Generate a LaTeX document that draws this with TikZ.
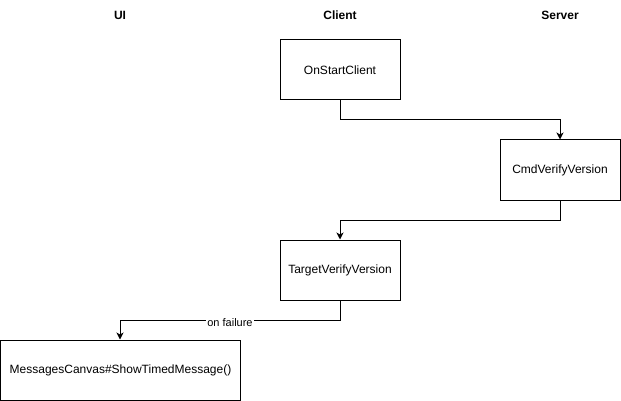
\documentclass[tikz,border=0pt]{standalone}
\usepackage{fontspec}
\setmainfont{Liberation Sans}
\usetikzlibrary{arrows.meta}
\begin{document}
\begin{tikzpicture}[x=1pt,y=-1pt,
  box/.style={draw=black,line width=1pt,minimum width=120pt,minimum height=60pt,inner sep=0pt,font=\fontsize{12}{14}\selectfont,anchor=center},
  wide/.style={box,minimum width=240pt},
  hdr/.style={font=\fontsize{12}{14}\selectfont\bfseries},
  conn/.style={line width=1pt,-{Stealth[length=7pt,width=7pt,inset=2pt]}},
  lbl/.style={fill=white,inner sep=1pt,font=\fontsize{11}{13}\selectfont}]
\useasboundingbox (0,0) rectangle (621,401);
\node[hdr] (ui) at (120,15) {UI};
\node[hdr] (client) at (340,15) {Client};
\node[hdr] (server) at (560,15) {Server};
\node[box] (start) at (340,70) {OnStartClient};
\node[box] (cmd) at (560,170) {CmdVerifyVersion};
\node[box] (target) at (340,270) {TargetVerifyVersion};
\node[wide] (msg) at (120.5,370) {MessagesCanvas\#ShowTimedMessage()};
\coordinate (c1) at (340,120);
\coordinate (c2) at (560,120);
\coordinate (c3) at (560,220);
\coordinate (c4) at (340,220);
\coordinate (c5) at (340,320);
\coordinate (c6) at (120,320);
\draw[conn] (start.south) -- (c1) -- (c2) -- (cmd.north);
\draw[conn] (cmd.south) -- (c3) -- (c4) -- (target.north);
\draw[conn] (target.south) -- (c5) -- (c6) -- (msg.north -| c6);
\node[lbl] (fail) at (230,323) {on failure};
\end{tikzpicture}
\end{document}
